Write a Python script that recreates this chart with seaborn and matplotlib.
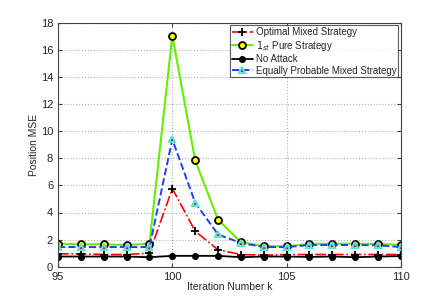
import matplotlib
matplotlib.use("Agg")
import matplotlib.pyplot as plt
import seaborn as sns
import pandas as pd

iterations = list(range(95, 111))
optimal_mixed = [0.95, 0.95, 0.9, 0.9, 1.0, 5.77, 2.62, 1.25, 0.9, 0.85, 0.9, 0.9, 0.9, 0.9, 0.9, 0.9]
pure_first = [1.7, 1.65, 1.65, 1.6, 1.7, 17.05, 7.85, 3.47, 1.8, 1.53, 1.5, 1.68, 1.7, 1.7, 1.68, 1.62]
no_attack = [0.75, 0.75, 0.75, 0.75, 0.7, 0.8, 0.8, 0.8, 0.7, 0.75, 0.75, 0.72, 0.75, 0.7, 0.75, 0.78]
equal_mixed = [1.45, 1.45, 1.45, 1.45, 1.45, 9.4, 4.72, 2.38, 1.75, 1.45, 1.45, 1.6, 1.6, 1.6, 1.58, 1.45]
labels = ["Optimal Mixed Strategy", "$1_{st}$ Pure Strategy", "No Attack", "Equally Probable Mixed Strategy"]

sns.set_style("white")
plt.rcParams['font.family'] = ['Liberation Sans', 'DejaVu Sans']

fig = plt.figure(figsize=(4.43, 3.0), dpi=100)
ax = fig.add_axes([0.131, 0.111, 0.774, 0.813])

df = pd.DataFrame({"k": iterations, "opt": optimal_mixed, "pure": pure_first,
                   "none": no_attack, "eq": equal_mixed})

sns.lineplot(data=df, x="k", y="opt", ax=ax, color="red", linestyle="-.", lw=1.2,
             marker="+", ms=6, mec="black", mew=1.3, label=labels[0])
sns.lineplot(data=df, x="k", y="pure", ax=ax, color="#66ee00", linestyle="-", lw=1.5,
             marker="o", ms=5, mfc="yellow", mec="black", mew=1.3, label=labels[1])
sns.lineplot(data=df, x="k", y="none", ax=ax, color="black", linestyle="-", lw=1.3,
             marker="o", ms=4.3, mfc="black", mec="black", label=labels[2])
sns.lineplot(data=df, x="k", y="eq", ax=ax, color="#1f3fff", linestyle="--", lw=1.4,
             marker="^", ms=5, mfc="red", mec="#55e6d8", mew=1.5, label=labels[3])

ax.set_xlim(95, 110)
ax.set_ylim(0, 18)
ax.set_xticks([95, 100, 105, 110])
ax.set_yticks(range(0, 19, 2))
ax.grid(True, linestyle=":", color="#b0b0b0", lw=0.8)
for s in ax.spines.values():
    s.set_color("#444444")
    s.set_linewidth(0.8)
ax.tick_params(direction="in", length=3, labelsize=8, top=True, right=True,
               bottom=True, left=True, color="#444444")
ax.set_xlabel("Iteration Number k", fontsize=7.5, labelpad=0)
ax.set_ylabel("Position MSE", fontsize=7.5, labelpad=1)

leg = ax.legend(loc="upper right", fontsize=7, frameon=True, fancybox=False,
                borderpad=0.2, labelspacing=0.15, handlelength=2.2, handletextpad=0.3,
                borderaxespad=0.25)
leg.get_frame().set_edgecolor("#333333")
leg.get_frame().set_linewidth(0.8)

fig.savefig("out.png", dpi=100)
